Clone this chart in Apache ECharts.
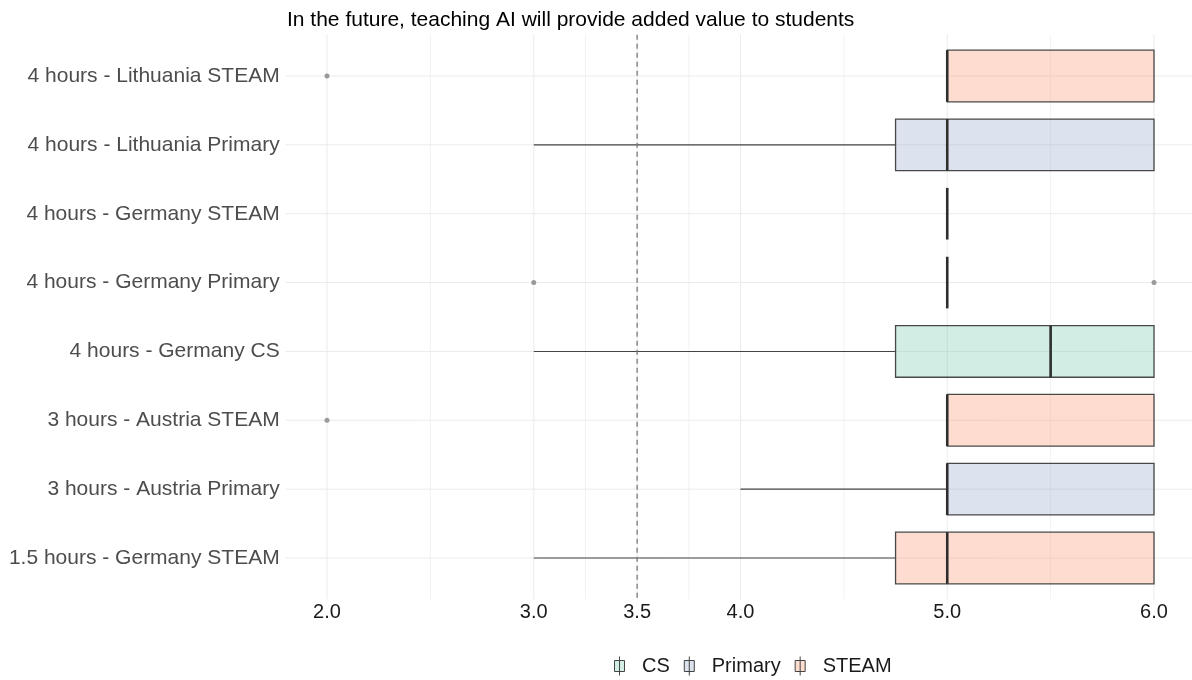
<!DOCTYPE html>
<html><head><meta charset="utf-8">
<script src="https://cdn.jsdelivr.net/npm/echarts@6/dist/echarts.min.js"></script>
<style>html,body{margin:0;padding:0;background:#fff}#c{width:1192px;height:680px}</style>
</head><body><div id="c"></div>
<script>
// bottom (1) to top (8)
const categories = ['1.5 hours - Germany STEAM','3 hours - Austria Primary','3 hours - Austria STEAM','4 hours - Germany CS','4 hours - Germany Primary','4 hours - Germany STEAM','4 hours - Lithuania Primary','4 hours - Lithuania STEAM'];
const groups = ['STEAM','Primary','STEAM','CS','Primary','STEAM','Primary','STEAM'];
const lowWhisker = [3, 4, 5, 3, 5, 5, 3, 5];
const q1 = [4.75, 5, 5, 4.75, 5, 5, 4.75, 5];
const median = [5, 5, 5, 5.5, 5, 5, 5, 5];
const q3 = [6, 6, 6, 6, 5, 5, 6, 6];
const highWhisker = [6, 6, 6, 6, 5, 5, 6, 6];
const outliers = [[], [], [2], [], [3, 6], [], [], [2]];
const xTickLabels = [2, 3, 3.5, 4, 5, 6];
const xMinorGrid = [2.5, 3.25, 3.75, 4.5, 5.5];
const refLine = 3.5;
const legendNames = ['CS', 'Primary', 'STEAM'];
const fillColors = {CS: 'rgba(102,194,165,0.3)', Primary: 'rgba(141,160,203,0.3)', STEAM: 'rgba(252,141,98,0.3)'};

const chart = echarts.init(document.getElementById('c'));

function boxRender(params, api) {
  const y = api.value(0);
  const lo = api.coord([api.value(1), y]);
  const a = api.coord([api.value(2), y]);
  const m = api.coord([api.value(3), y]);
  const b = api.coord([api.value(4), y]);
  const hi = api.coord([api.value(5), y]);
  const h = api.size([0, 0.75])[1];
  const ch = [];
  if (a[0] - lo[0] > 0.5) ch.push({type: 'line', shape: {x1: lo[0], y1: lo[1], x2: a[0], y2: a[1]}, style: {stroke: '#444', lineWidth: 1.1}});
  if (hi[0] - b[0] > 0.5) ch.push({type: 'line', shape: {x1: b[0], y1: b[1], x2: hi[0], y2: hi[1]}, style: {stroke: '#444', lineWidth: 1.1}});
  if (b[0] - a[0] > 0.5) ch.push({type: 'rect', shape: {x: a[0], y: a[1] - h / 2, width: b[0] - a[0], height: h}, style: {fill: api.visual('color'), stroke: '#484848', lineWidth: 1.3}});
  ch.push({type: 'line', shape: {x1: m[0], y1: m[1] - h / 2, x2: m[0], y2: m[1] + h / 2}, style: {stroke: '#2e2e2e', lineWidth: 2.6}});
  return {type: 'group', children: ch};
}

const boxSeries = legendNames.map(g => ({
  name: g, type: 'custom', z: 3,
  itemStyle: {color: fillColors[g]},
  renderItem: boxRender,
  encode: {x: [1, 2, 3, 4, 5], y: 0},
  data: categories.map((c, i) => i).filter(i => groups[i] === g)
    .map(i => [i + 1, lowWhisker[i], q1[i], median[i], q3[i], highWhisker[i]])
}));

const outlierData = [];
outliers.forEach((arr, i) => arr.forEach(v => outlierData.push([v, i + 1])));

const gridData = [];
xTickLabels.forEach(v => gridData.push(['x', v, 1]));
xMinorGrid.forEach(v => gridData.push(['x', v, 0]));
categories.forEach((c, i) => gridData.push(['y', i + 1, 1]));

const iconPath = 'path://M0,4 L10,4 L10,15 L0,15 Z M5,4 L5,15 M5,0 L5,4 M5,15 L5,19';

chart.setOption({
  animation: false,
  title: {text: 'In the future, teaching AI will provide added value to students', left: 282, top: 5,
    textStyle: {fontFamily: 'Liberation Sans', fontSize: 21, fontWeight: 'normal', color: '#000'}},
  grid: {left: 285.65, top: 34.7, width: 909.7, height: 564.6, outerBoundsMode: 'none', containLabel: false},
  legend: {
    top: 651, left: 609, itemWidth: 11, itemHeight: 19, itemGap: 14,
    textStyle: {fontFamily: 'Liberation Sans', fontSize: 20, color: '#1a1a1a', padding: [0, 0, 0, 12]},
    data: legendNames.map(g => ({name: g, icon: iconPath, itemStyle: {color: fillColors[g], borderColor: '#444', borderWidth: 1}}))
  },
  xAxis: {type: 'value', min: 1.8, max: 6.2,
    axisLine: {show: false}, axisTick: {show: false}, splitLine: {show: false},
    axisLabel: {customValues: xTickLabels, formatter: v => v.toFixed(1), margin: 3,
      fontFamily: 'Liberation Sans', fontSize: 20, color: '#1a1a1a'}},
  yAxis: {type: 'value', min: 0.4, max: 8.6,
    axisLine: {show: false}, axisTick: {show: false}, splitLine: {show: false},
    axisLabel: {customValues: categories.map((c, i) => i + 1), formatter: v => categories[Math.round(v) - 1] || '',
      margin: 6, fontFamily: 'Liberation Sans', fontSize: 21, color: '#4d4d4d'}},
  series: [
    {type: 'custom', name: 'grid', z: 1, silent: true, data: gridData,
      encode: {x: 1, y: 2},
      renderItem: (params, api) => {
        const cs = params.coordSys;
        const d = gridData[params.dataIndex];
        const color = d[2] ? '#ebebeb' : '#f2f2f2';
        if (d[0] === 'x') {
          const p = api.coord([d[1], 1]);
          return {type: 'line', shape: {x1: p[0], y1: cs.y, x2: p[0], y2: cs.y + cs.height}, style: {stroke: color, lineWidth: 1}};
        }
        const p = api.coord([2, d[1]]);
        return {type: 'line', shape: {x1: cs.x, y1: p[1], x2: cs.x + cs.width, y2: p[1]}, style: {stroke: color, lineWidth: 1}};
      }},
    ...boxSeries,
    {type: 'scatter', name: 'outliers', z: 4, symbolSize: 5, data: outlierData, itemStyle: {color: '#9a9a9a', opacity: 1}},
    {type: 'custom', name: 'ref', z: 5, silent: true, data: [[refLine, 1]],
      renderItem: (params, api) => {
        const cs = params.coordSys;
        const p = api.coord([api.value(0), 1]);
        return {type: 'line', shape: {x1: p[0], y1: cs.y, x2: p[0], y2: cs.y + cs.height}, style: {stroke: '#7a7a7a', lineWidth: 1.3, lineDash: [5, 4]}};
      }}
  ]
});
</script></body></html>
